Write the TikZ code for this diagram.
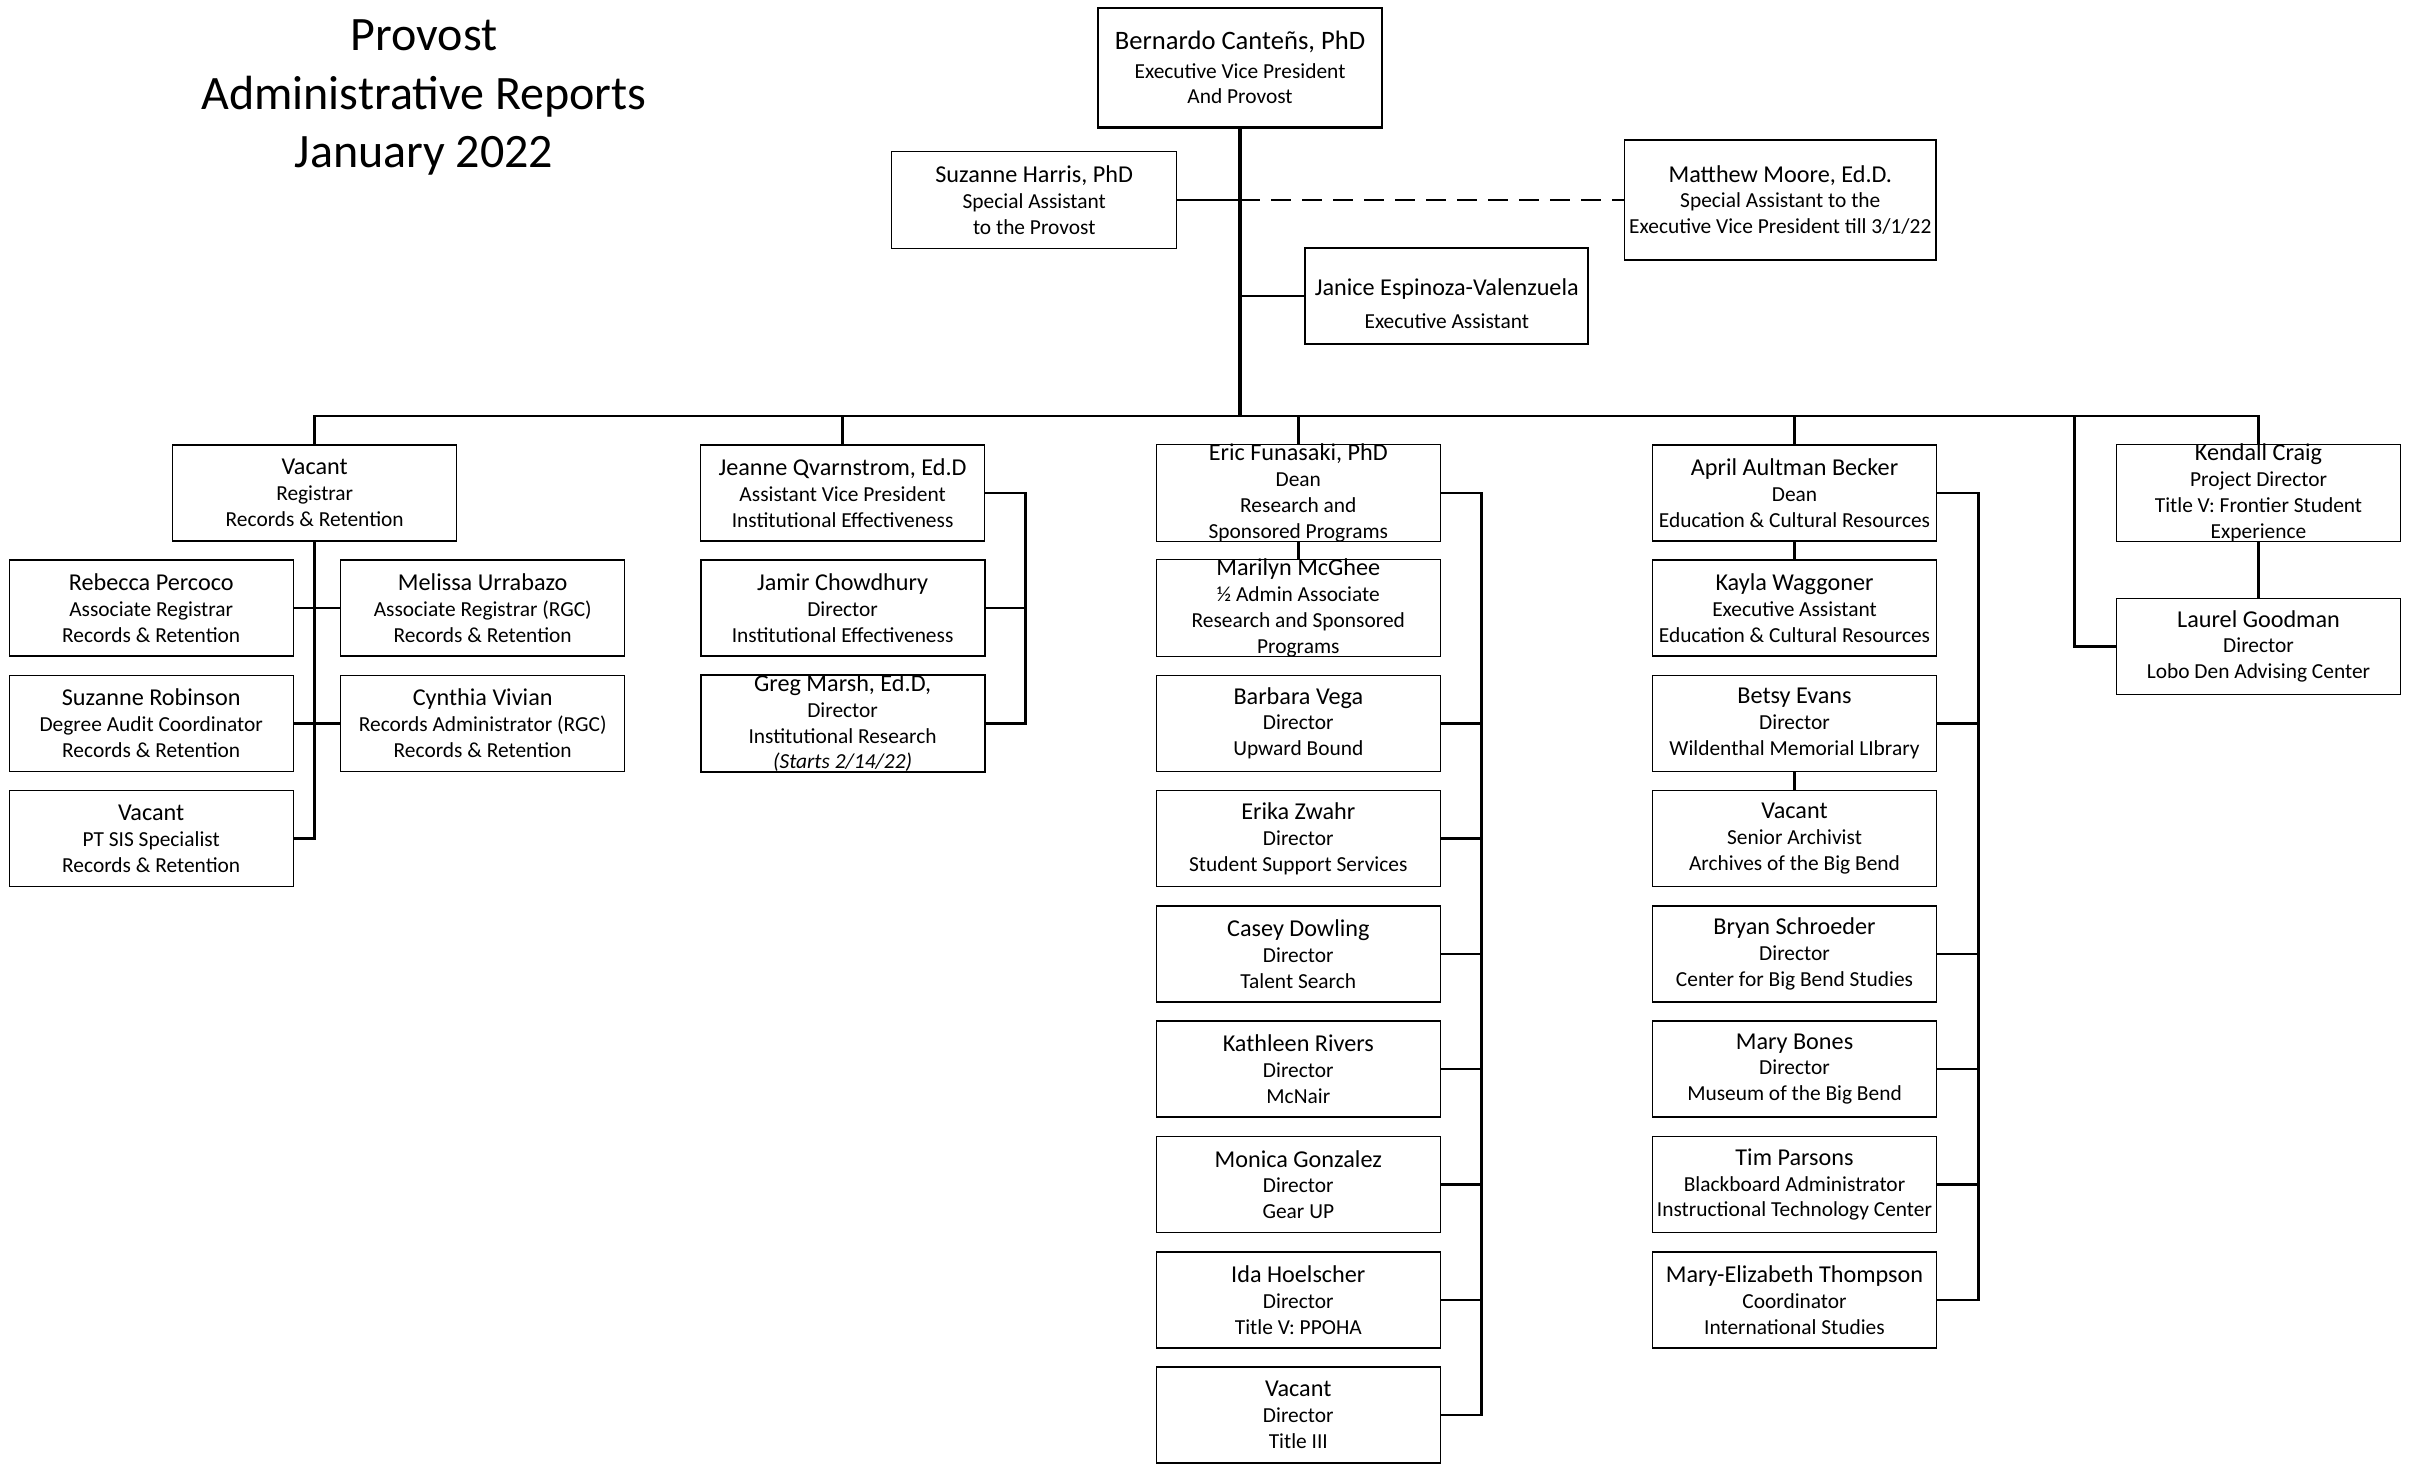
\documentclass[tikz,border=0pt]{standalone}
\usepackage{fontspec}
\setmainfont{Carlito}
\newcommand\orgsub{\fontsize{10.7}{12.9}\selectfont}
\newcommand\orgname{\fontsize{12.1}{12.9}\selectfont}
\begin{document}
\begin{tikzpicture}[x=0.5pt,y=-0.5pt,
  box/.style={draw=black, line width=0.55pt, fill=white, minimum width=142pt,
    minimum height=48pt, inner sep=0pt, align=center, font=\orgsub,
    execute at begin node={\rule{0pt}{10.5pt}}},
  heavy/.style={line width=1.1pt},
  link/.style={draw=black, line width=1.35pt},
  trunk/.style={draw=black, line width=1.7pt},
  txt/.style={inner sep=0pt, align=center, font=\orgsub},
]
\useasboundingbox[fill=white] (0,0) rectangle (2419,1470);

% title
\node[inner sep=0pt, align=center, font=\fontsize{24}{29.2}\selectfont] (title) at (424,97.5)
  {Provost\\Administrative Reports\\January 2022};

% executive level
\node[box, heavy, minimum width=141.7pt, minimum height=59.8pt] (bern) at (1240,67.8)
  {{\fontsize{13.3}{14}\selectfont Bernardo Canteñs, PhD}\\[1.2pt]Executive Vice President\\And Provost};
\node[box, minimum width=142.5pt, minimum height=48.3pt] (suz) at (1034.2,200)
  {{\orgname Suzanne Harris, PhD}\\Special Assistant\\to the Provost};
\node[box, minimum width=155.7pt, minimum height=60pt] (mat) at (1780.3,200)
  {{\orgname Matthew Moore, Ed.D.}\\Special Assistant to the\\Executive Vice President till 3/1/22};
\node[box, heavy, minimum width=141.5pt] (jan) at (1446.8,296) {};
\node[txt] (jantxt) at (1446.8,303.5)
  {{\orgname Janice Espinoza-Valenzuela}\\[3.6pt]Executive Assistant};

% directors
\node[box] (reg) at (314.7,493) {{\orgname Vacant}\\Registrar\\Records \& Retention};
\node[box] (jea) at (842.6,493) {{\orgname Jeanne Qvarnstrom, Ed.D}\\Assistant Vice President\\Institutional Effectiveness};
\node[box] (eric) at (1298.3,493) {{\orgname Eric Funasaki, PhD}\\Dean\\Research and\\Sponsored Programs};
\node[box] (apr) at (1794.5,493) {{\orgname April Aultman Becker}\\Dean\\Education \& Cultural Resources};
\node[box] (ken) at (2258.5,493) {{\orgname Kendall Craig}\\Project Director\\Title V: Frontier Student\\Experience};

% registrar staff
\node[box] (reb) at (151.2,608) {{\orgname Rebecca Percoco}\\Associate Registrar\\Records \& Retention};
\node[box] (mel) at (482.7,608) {{\orgname Melissa Urrabazo}\\Associate Registrar (RGC)\\Records \& Retention};
\node[box] (srob) at (151.2,723.3) {{\orgname Suzanne Robinson}\\Degree Audit Coordinator\\Records \& Retention};
\node[box] (cyn) at (482.7,723.3) {{\orgname Cynthia Vivian}\\Records Administrator (RGC)\\Records \& Retention};
\node[box] (pts) at (151.2,838.6) {{\orgname Vacant}\\PT SIS Specialist\\Records \& Retention};

% institutional effectiveness
\node[box, heavy] (jam) at (842.6,608) {{\orgname Jamir Chowdhury}\\Director\\Institutional Effectiveness};
\node[box, heavy] (greg) at (842.6,723.3) {{\orgname Greg Marsh, Ed.D,}\\Director\\Institutional Research\\\textit{(Starts 2/14/22)}};

% research and sponsored programs
\node[box] (mar) at (1298.3,608) {{\orgname Marilyn McGhee}\\½ Admin Associate\\Research and Sponsored\\Programs};
\node[box] (bar) at (1298.3,723.3) {{\orgname Barbara Vega}\\Director\\Upward Bound};
\node[box] (eri) at (1298.3,838.6) {{\orgname Erika Zwahr}\\Director\\Student Support Services};
\node[box] (cas) at (1298.3,954) {{\orgname Casey Dowling}\\Director\\Talent Search};
\node[box] (kat) at (1298.3,1069) {{\orgname Kathleen Rivers}\\Director\\McNair};
\node[box] (mon) at (1298.3,1184.6) {{\orgname Monica Gonzalez}\\Director\\Gear UP};
\node[box] (ida) at (1298.3,1300) {{\orgname Ida Hoelscher}\\Director\\Title V: PPOHA};
\node[box] (vt3) at (1298.3,1415) {{\orgname Vacant}\\Director\\Title III};

% education and cultural resources
\node[box] (kay) at (1794.5,608) {{\orgname Kayla Waggoner}\\Executive Assistant\\Education \& Cultural Resources};
\node[box] (bet) at (1794.5,723.3) {{\orgname Betsy Evans}\\Director\\Wildenthal Memorial LIbrary};
\node[box] (arc) at (1794.5,838.6) {{\orgname Vacant}\\Senior Archivist\\Archives of the Big Bend};
\node[box] (bry) at (1794.5,954) {{\orgname Bryan Schroeder}\\Director\\Center for Big Bend Studies};
\node[box] (bon) at (1794.5,1069) {{\orgname Mary Bones}\\Director\\Museum of the Big Bend};
\node[box] (tim) at (1794.5,1184.6) {{\orgname Tim Parsons}\\Blackboard Administrator\\Instructional Technology Center};
\node[box] (met) at (1794.5,1300) {{\orgname Mary-Elizabeth Thompson}\\Coordinator\\International Studies};

% advising
\node[box] (lau) at (2258.5,646.3) {{\orgname Laurel Goodman}\\Director\\Lobo Den Advising Center};

% connector points
\coordinate (busy) at (0,416);
\coordinate (lobo) at (2074.7,416);
\coordinate (jbr) at (1025.7,493);
\coordinate (ebr) at (1481.7,493);
\coordinate (abr) at (1978.7,493);

% provost office
\draw[trunk] (bern.south) -- (bern.south |- busy);
\draw[link] (suz.east) -- (suz.east -| bern.south);
\draw[link, dash pattern=on 10pt off 5.5pt] (suz.east -| bern.south) -- (mat.west);
\draw[link] (jan.west) -- (jan.west -| bern.south);

% main bus
\draw[link] (reg.north) -- (reg.north |- busy) -- (ken.north |- busy) -- (ken.north);
\draw[link] (jea.north) -- (jea.north |- busy);
\draw[link] (eric.north) -- (eric.north |- busy);
\draw[link] (apr.north) -- (apr.north |- busy);
\draw[link] (lobo) |- (lau.west);
\draw[link] (ken.south) -- (lau.north);

% registrar
\draw[link] (reg.south) |- (pts.east);
\draw[link] (reb.east) -- (mel.west);
\draw[link] (srob.east) -- (cyn.west);

% institutional effectiveness
\draw[link] (jea.east) -- (jbr) |- (greg.east);
\draw[link] (jam.east) -- (jam.east -| jbr);

% research and sponsored programs
\draw[link] (eric.south) -- (mar.north);
\draw[link] (eric.east) -- (ebr) |- (vt3.east);
\foreach \n in {bar,eri,cas,kat,mon,ida}
  \draw[link] (\n.east) -- (\n.east -| ebr);

% education and cultural resources
\draw[link] (apr.south) -- (kay.north);
\draw[link] (bet.south) -- (arc.north);
\draw[link] (apr.east) -- (abr) |- (met.east);
\foreach \n in {bet,bry,bon,tim}
  \draw[link] (\n.east) -- (\n.east -| abr);
\end{tikzpicture}
\end{document}
